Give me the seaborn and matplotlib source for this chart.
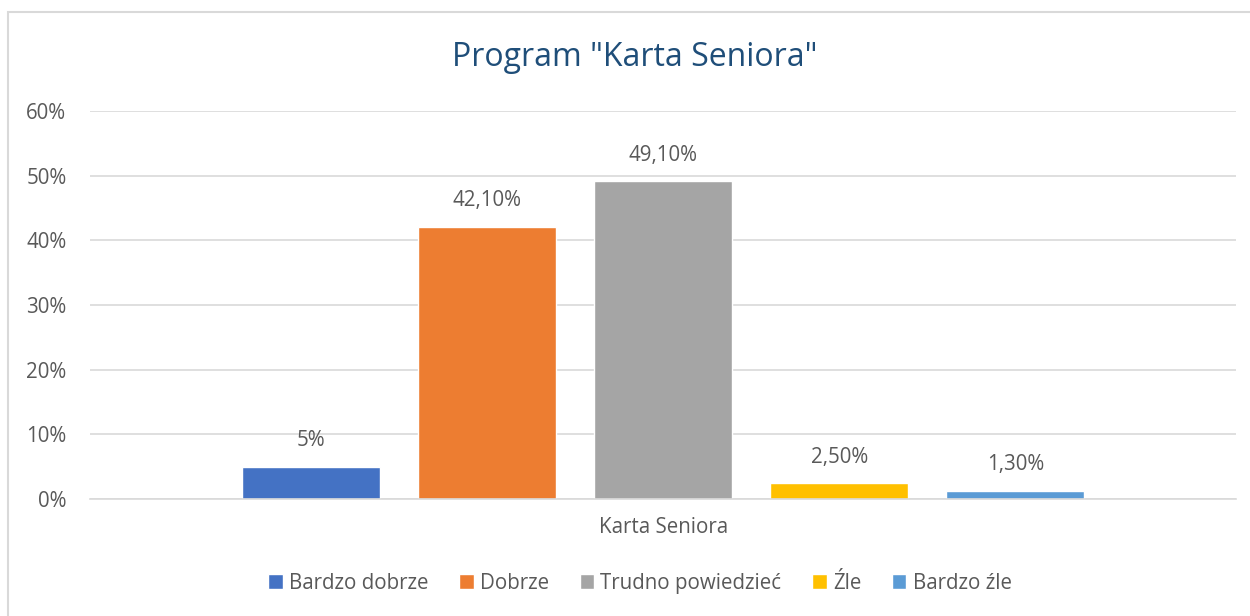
import pandas as pd
import matplotlib.pyplot as plt
import seaborn as sns
from matplotlib.patches import Rectangle

# dane
categories = ['Karta Seniora']
series = ['Bardzo dobrze', 'Dobrze', 'Trudno powiedzieć', 'Źle', 'Bardzo źle']
values = [0.05, 0.421, 0.491, 0.025, 0.013]
value_labels = ['5%', '42,10%', '49,10%', '2,50%', '1,30%']
colors = ['#4472C4', '#ED7D31', '#A5A5A5', '#FFC000', '#5B9BD5']
yticks = [0, 0.1, 0.2, 0.3, 0.4, 0.5, 0.6]
ytick_labels = ['0%', '10%', '20%', '30%', '40%', '50%', '60%']

sns.set_theme(style='white')
plt.rcParams['font.family'] = ['Open Sans', 'DejaVu Sans']
text_color = '#595959'
fs = 14.8

df = pd.DataFrame({
    'kategoria': categories * len(series),
    'seria': series,
    'wartosc': values,
})

fig = plt.figure(figsize=(12.5, 6.16), dpi=100)
ax = fig.add_axes([0.072, 0.19, 0.917, 0.63])

sns.barplot(data=df, x='kategoria', y='wartosc', hue='seria', hue_order=series,
            palette=colors, width=0.768, gap=0.216, saturation=1, ax=ax,
            legend=True)

ax.set_ylim(0, 0.6)
ax.set_xlim(-0.5, 0.5)
ax.set_yticks(yticks)
ax.set_yticklabels(ytick_labels)
ax.yaxis.grid(True, color='#D9D9D9', linewidth=1.2)
ax.set_axisbelow(True)
ax.set_xlabel('')
ax.set_ylabel('')
for s in ['top', 'right', 'left']:
    ax.spines[s].set_visible(False)
ax.spines['bottom'].set_color('#D9D9D9')
ax.spines['bottom'].set_linewidth(1.2)
ax.tick_params(axis='both', length=0, colors=text_color, labelsize=fs)
ax.tick_params(axis='y', pad=17)
ax.tick_params(axis='x', pad=13)

for cont, lab in zip(ax.containers, value_labels):
    ax.bar_label(cont, labels=[lab], padding=11, color=text_color, fontsize=fs)

# tytuł wyśrodkowany względem całej ramki, nie osi
ax.set_title('Program "Karta Seniora"', color='#1F4E79', fontsize=23, pad=32,
             x=0.4756)

handles, labels = ax.get_legend_handles_labels()
ax.get_legend().remove()
fig.legend(handles, labels, loc='center', bbox_to_anchor=(0.512, 0.053), ncol=5,
           frameon=False, fontsize=fs, handlelength=0.7, handleheight=0.7,
           handletextpad=0.3, columnspacing=1.5, labelcolor=text_color)

# ramka wokół wykresu
fig.patches.append(Rectangle((8 / 1250, -0.01), 1.0, 1 - 12 / 616 + 0.01,
                             transform=fig.transFigure, fill=False,
                             edgecolor='#D9D9D9', linewidth=1.5))

fig.savefig('out.png', dpi=100)
